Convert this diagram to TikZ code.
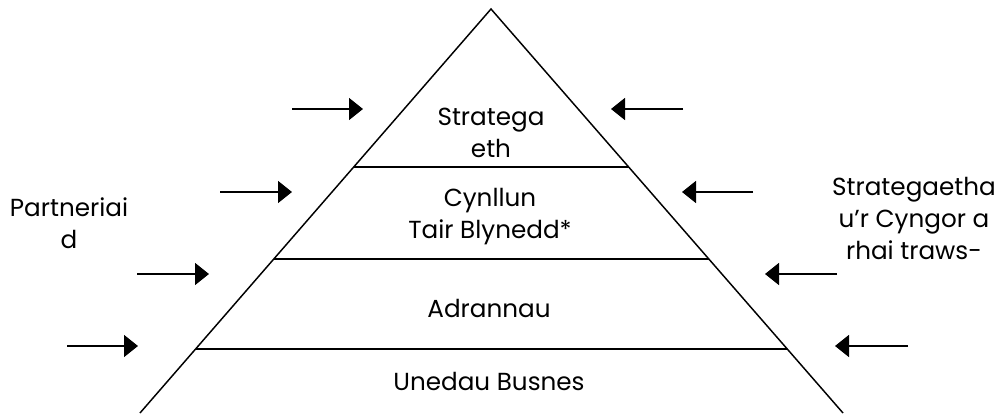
\documentclass[tikz,border=0pt]{standalone}
\usepackage{fontspec}
\setmainfont{Poppins}
\usetikzlibrary{arrows.meta,calc}
\pgfdeclarelayer{background}
\pgfdeclarelayer{foreground}
\pgfsetlayers{background,main,foreground}

\begin{document}
\begin{tikzpicture}[x=0.75pt,y=-0.75pt,
  label/.style={align=center,inner sep=0pt,font=\fontsize{18.5}{24}\selectfont},
  push/.style={line width=1.1pt,-{Triangle[length=10.5pt,width=16.5pt]}}]
\useasboundingbox (0,0) rectangle (1004,414);
\coordinate (apex) at (491,9);
\coordinate (bl) at (140,413);
\coordinate (br) at (843,413);
\begin{pgfonlayer}{background}
\draw[line width=1.1pt] (bl) -- (apex) -- (br);
\draw[line width=1.3pt] ($(apex)!0.391!(bl)$) -- ($(apex)!0.391!(br)$);
\draw[line width=1.3pt] ($(apex)!0.619!(bl)$) -- ($(apex)!0.619!(br)$);
\draw[line width=1.3pt] ($(apex)!0.8416!(bl)$) -- ($(apex)!0.8416!(br)$);
\end{pgfonlayer}
% levels
\node[label] (strat) at (491,133) {Stratega\\eth};
\node[label] (cyn) at (490,217) {Cynllun\\Tair Blynedd*};
\node[label] (adr) at (489,308) {Adrannau};
\node[label] (uned) at (489,381) {Unedau Busnes};
% sides
\node[label] (part) at (69,223) {Partneriai\\d};
\node[label] (cyngor) at (914,218) {Strategaetha\\u’r Cyngor a\\rhai traws-};
% left arrows
\coordinate (l1a) at (292,109); \coordinate (l1b) at (363,109);
\coordinate (l2a) at (220,192); \coordinate (l2b) at (292,192);
\coordinate (l3a) at (137,274); \coordinate (l3b) at (209,274);
\coordinate (l4a) at (67,346);  \coordinate (l4b) at (138,346);
\draw[push] (l1a) -- (l1b);
\draw[push] (l2a) -- (l2b);
\draw[push] (l3a) -- (l3b);
\draw[push] (l4a) -- (l4b);
% right arrows
\coordinate (r1a) at (683,109); \coordinate (r1b) at (611,109);
\coordinate (r2a) at (753,192); \coordinate (r2b) at (682,192);
\coordinate (r3a) at (837,274); \coordinate (r3b) at (765,274);
\coordinate (r4a) at (908,346); \coordinate (r4b) at (835,346);
\draw[push] (r1a) -- (r1b);
\draw[push] (r2a) -- (r2b);
\draw[push] (r3a) -- (r3b);
\draw[push] (r4a) -- (r4b);
\end{tikzpicture}
\end{document}
